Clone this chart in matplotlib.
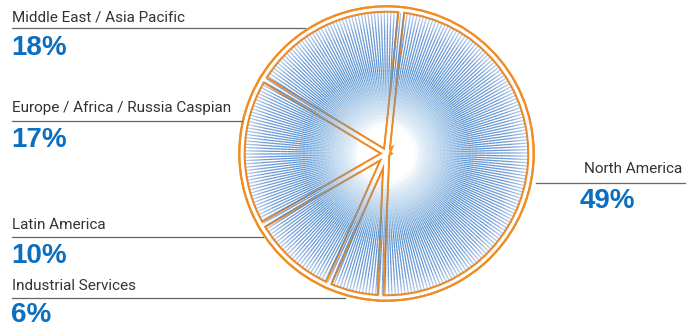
import numpy as np
import matplotlib
matplotlib.use("Agg")
import matplotlib.pyplot as plt
from matplotlib.collections import LineCollection
from matplotlib.patches import Circle
from matplotlib.colors import to_rgba

# regional share of revenue, clockwise from the top
regions = ["North America", "Industrial Services", "Latin America",
           "Europe / Africa / Russia Caspian", "Middle East / Asia Pacific"]
shares = [49, 6, 10, 17, 18]

W, H = 696, 328
fig = plt.figure(figsize=(W / 100, H / 100), dpi=100)
ax = fig.add_axes([0, 0, 1, 1])

cx, cy = 386.5, H - 153.5
R = 144.5
orange = "#f08c24"
blue_txt = "#0b6fc1"
grey_txt = "#333333"

# radial line texture under the wedges
n_lines, n_seg = 270, 40
ang = np.linspace(0, 2 * np.pi, n_lines, endpoint=False) + 0.004
rr = np.linspace(0, R - 3, n_seg + 1)
segs, cols = [], []
c_in = np.array(to_rgba("#55a4de"))
c_out = np.array(to_rgba("#4478c4"))
for a in ang:
    c, s = np.cos(a), np.sin(a)
    for i in range(n_seg):
        r0, r1 = rr[i], rr[i + 1]
        t = (r0 + r1) / 2 / R
        alpha = np.interp(t, [0, 0.2, 0.35, 0.58, 0.85, 1.0],
                          [0, 0, 0.3, 0.95, 0.8, 0.28])
        segs.append([(cx + r0 * c, cy + r0 * s), (cx + r1 * c, cy + r1 * s)])
        col = c_in + (c_out - c_in) * t
        col[3] = alpha
        cols.append(col)
ax.add_collection(LineCollection(segs, colors=cols, linewidths=0.9))

# wedges: orange outline with a white stroke through it -> double lines
pie_kw = dict(startangle=84, counterclock=False, center=(cx, cy), radius=R)
ax.pie(shares, colors=["none"] * 5,
       wedgeprops=dict(edgecolor=orange, linewidth=5.4), **pie_kw)
ax.pie(shares, colors=["none"] * 5,
       wedgeprops=dict(edgecolor="white", linewidth=2.4), **pie_kw)
ax.add_patch(Circle((cx, cy), R + 2.7, fill=False, edgecolor=orange, lw=1.5))

# labels with leader lines (name, value, name baseline, line y, line end, pct baseline)
lab_font = ["Roboto", "DejaVu Sans"]
pct_font = ["Liberation Sans", "DejaVu Sans"]
left_labels = [
    (regions[4], shares[4], 21, 28, 305, 55),
    (regions[3], shares[3], 112, 121, 242, 147),
    (regions[2], shares[2], 229, 237, 263, 263),
    (regions[1], shares[1], 290, 298, 345, 322),
]
for name, val, yt, yl, xe, yp in left_labels:
    ax.text(12, H - yt, name, fontsize=11, color=grey_txt, family=lab_font,
            ha="left", va="baseline")
    ax.plot([12, xe], [H - yl, H - yl], color="#666666", lw=0.9)
    ax.text(11, H - yp, f"{val}%", fontsize=20, fontweight="bold",
            color=blue_txt, family=pct_font, ha="left", va="baseline")

ax.text(682, H - 173, regions[0], fontsize=11, color=grey_txt,
        family=lab_font, ha="right", va="baseline")
ax.plot([536, 685], [H - 183, H - 183], color="#666666", lw=0.9)
ax.text(580, H - 208, f"{shares[0]}%", fontsize=20, fontweight="bold",
        color=blue_txt, family=pct_font, ha="left", va="baseline")

ax.set_xlim(0, W)
ax.set_ylim(0, H)
ax.set_aspect("equal")
ax.axis("off")

fig.savefig("out.png", dpi=100)
